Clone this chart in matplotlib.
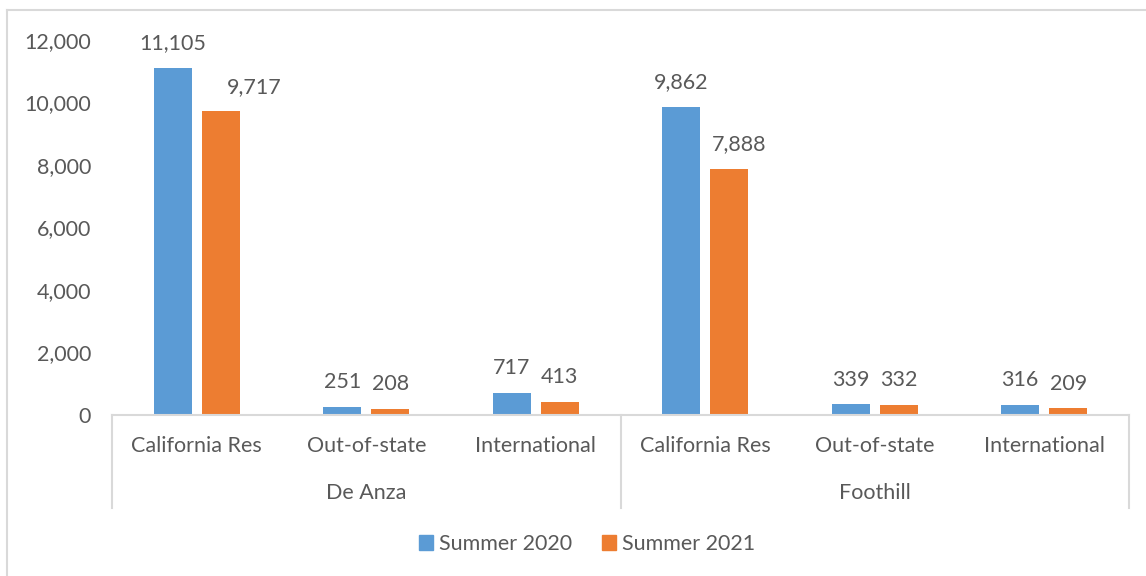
import numpy as np
import matplotlib.pyplot as plt
from matplotlib.lines import Line2D
from matplotlib.patches import Patch
import matplotlib.transforms as mtransforms

plt.rcParams['font.family'] = ['Lato', 'DejaVu Sans']

colleges = ['De Anza', 'Foothill']
residency = ['California Res', 'Out-of-state', 'International']
summer_2020 = [11105, 251, 717, 9862, 339, 316]
summer_2021 = [9717, 208, 413, 7888, 332, 209]
series_names = ['Summer 2020', 'Summer 2021']
yticks = [0, 2000, 4000, 6000, 8000, 10000, 12000]

# sideways nudge (points) of the value labels, as Excel placed them
nudge_2020 = [0, 0, 0, 0, 0, 0]
nudge_2021 = [24, 0, 0, 7, 0, 0]

blue = '#5B9BD5'
orange = '#ED7D31'
txt = '#595959'
line_gray = '#D9D9D9'
fs = 15.5

W, H = 1146, 576
fig = plt.figure(figsize=(W / 100, H / 100), dpi=100)

# outer frame (only left and top edges visible in the crop)
fig.add_artist(Line2D([7 / W, 7 / W], [0, 1 - 10 / H], color=line_gray, lw=1.5))
fig.add_artist(Line2D([7 / W, 1], [1 - 10 / H, 1 - 10 / H], color=line_gray, lw=1.5))

x0, x1 = 112, 1129
y_top, y_base = 40, 415
ax = fig.add_axes([x0 / W, 1 - y_base / H, (x1 - x0) / W, (y_base - y_top) / H])

n = len(summer_2020)
x = np.arange(n)
bw = 0.225
off = 0.142
b1 = ax.bar(x - off, summer_2020, bw, color=blue, label=series_names[0])
b2 = ax.bar(x + off, summer_2021, bw, color=orange, label=series_names[1])

for bars, nudges in ((b1, nudge_2020), (b2, nudge_2021)):
    for r, dx in zip(bars, nudges):
        v = r.get_height()
        ax.annotate(f'{v:,.0f}', (r.get_x() + r.get_width() / 2, v),
                    xytext=(dx, 13.5), textcoords='offset points',
                    ha='center', va='baseline', fontsize=fs, color=txt)

ax.set_xlim(-0.5, n - 0.5)
ax.set_ylim(0, 12000)
ax.set_yticks(yticks)
ax.set_yticklabels([f'{t:,}' for t in yticks], fontsize=fs, color=txt)
ax.tick_params(axis='y', length=0, pad=15)
ax.set_xticks([])
for s in ['left', 'right', 'top']:
    ax.spines[s].set_visible(False)
ax.spines['bottom'].set_color(line_gray)
ax.spines['bottom'].set_linewidth(1.5)

# multi-level category axis
tr = mtransforms.blended_transform_factory(ax.transData, fig.transFigure)
for i in range(n):
    ax.text(i, 1 - 446 / H, residency[i % 3], transform=tr, ha='center', va='center',
            fontsize=fs, color=txt)
for g, name in enumerate(colleges):
    ax.text(g * 3 + 1, 1 - 493 / H, name, transform=tr, ha='center', va='center',
            fontsize=fs, color=txt)
for xb in [-0.5, 2.5, 5.5]:
    ax.add_artist(Line2D([xb, xb], [1 - y_base / H, 1 - 508 / H], transform=tr,
                         color=line_gray, lw=1.5, clip_on=False))

handles = [Patch(color=blue), Patch(color=orange)]
fig.legend(handles, series_names, loc='center', bbox_to_anchor=(587 / W, 1 - 544 / H),
           ncol=2, frameon=False, fontsize=fs, labelcolor=txt,
           handlelength=0.65, handleheight=0.65, handletextpad=0.3, columnspacing=1.35)

plt.savefig('out.png', dpi=100)
